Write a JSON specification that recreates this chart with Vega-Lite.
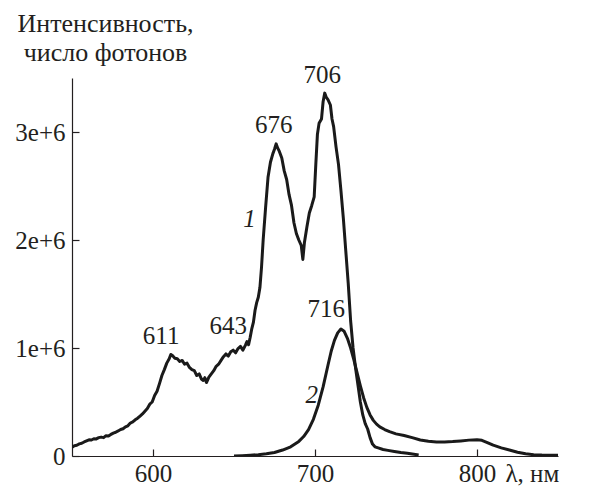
{
  "$schema": "https://vega.github.io/schema/vega-lite/v6.json",
  "width": 486,
  "height": 378,
  "autosize": {"type": "none"},
  "padding": {"left": 72, "top": 78, "right": 48, "bottom": 30},
  "background": "white",
  "config": {
    "view": {"stroke": null},
    "axis": {
      "grid": false,
      "domainColor": "#231f20",
      "domainWidth": 1.2,
      "tickColor": "#231f20",
      "tickWidth": 1.2,
      "labelFont": "Liberation Serif",
      "labelFontSize": 25,
      "labelColor": "#231f20",
      "titleFont": "Liberation Serif",
      "titleFontWeight": "normal",
      "titleColor": "#231f20"
    }
  },
  "datasets": {
    "curves": [
      {"series": "1", "nm": 550, "v": 0.080}, {"series": "1", "nm": 551.5, "v": 0.095}, {"series": "1", "nm": 553, "v": 0.100}, {"series": "1", "nm": 554.5, "v": 0.112},
      {"series": "1", "nm": 556, "v": 0.118}, {"series": "1", "nm": 557.5, "v": 0.130}, {"series": "1", "nm": 559, "v": 0.140}, {"series": "1", "nm": 560.5, "v": 0.150},
      {"series": "1", "nm": 562, "v": 0.148}, {"series": "1", "nm": 563.5, "v": 0.160}, {"series": "1", "nm": 565, "v": 0.158}, {"series": "1", "nm": 566.5, "v": 0.170},
      {"series": "1", "nm": 568, "v": 0.175}, {"series": "1", "nm": 569.5, "v": 0.170}, {"series": "1", "nm": 571, "v": 0.188}, {"series": "1", "nm": 572.5, "v": 0.185},
      {"series": "1", "nm": 574, "v": 0.200}, {"series": "1", "nm": 575.5, "v": 0.212}, {"series": "1", "nm": 577, "v": 0.220}, {"series": "1", "nm": 578.5, "v": 0.232},
      {"series": "1", "nm": 580, "v": 0.245}, {"series": "1", "nm": 581.5, "v": 0.252}, {"series": "1", "nm": 583, "v": 0.270}, {"series": "1", "nm": 584.5, "v": 0.280},
      {"series": "1", "nm": 586, "v": 0.305}, {"series": "1", "nm": 587.5, "v": 0.315}, {"series": "1", "nm": 589, "v": 0.335}, {"series": "1", "nm": 590.5, "v": 0.350},
      {"series": "1", "nm": 592, "v": 0.370}, {"series": "1", "nm": 593.5, "v": 0.390}, {"series": "1", "nm": 595, "v": 0.415}, {"series": "1", "nm": 596.5, "v": 0.440},
      {"series": "1", "nm": 598, "v": 0.480}, {"series": "1", "nm": 599.5, "v": 0.500}, {"series": "1", "nm": 601, "v": 0.560}, {"series": "1", "nm": 602.5, "v": 0.600},
      {"series": "1", "nm": 604, "v": 0.670}, {"series": "1", "nm": 605.5, "v": 0.745}, {"series": "1", "nm": 607, "v": 0.800}, {"series": "1", "nm": 608.5, "v": 0.860},
      {"series": "1", "nm": 610, "v": 0.900}, {"series": "1", "nm": 611, "v": 0.940}, {"series": "1", "nm": 612, "v": 0.930}, {"series": "1", "nm": 613.5, "v": 0.905},
      {"series": "1", "nm": 615, "v": 0.900}, {"series": "1", "nm": 616.5, "v": 0.875}, {"series": "1", "nm": 618, "v": 0.885}, {"series": "1", "nm": 619.5, "v": 0.850},
      {"series": "1", "nm": 621, "v": 0.860}, {"series": "1", "nm": 622.5, "v": 0.820}, {"series": "1", "nm": 624, "v": 0.800}, {"series": "1", "nm": 625.5, "v": 0.790},
      {"series": "1", "nm": 627, "v": 0.745}, {"series": "1", "nm": 628.5, "v": 0.760}, {"series": "1", "nm": 630, "v": 0.710}, {"series": "1", "nm": 631, "v": 0.700},
      {"series": "1", "nm": 632, "v": 0.725}, {"series": "1", "nm": 633, "v": 0.680}, {"series": "1", "nm": 634.5, "v": 0.730}, {"series": "1", "nm": 636, "v": 0.760},
      {"series": "1", "nm": 637.5, "v": 0.790}, {"series": "1", "nm": 639, "v": 0.830}, {"series": "1", "nm": 640.5, "v": 0.850}, {"series": "1", "nm": 642, "v": 0.885},
      {"series": "1", "nm": 643.5, "v": 0.920}, {"series": "1", "nm": 645, "v": 0.945}, {"series": "1", "nm": 646.5, "v": 0.925}, {"series": "1", "nm": 648, "v": 0.965},
      {"series": "1", "nm": 649.5, "v": 0.980}, {"series": "1", "nm": 651, "v": 0.955}, {"series": "1", "nm": 652.5, "v": 0.995}, {"series": "1", "nm": 654, "v": 1.015},
      {"series": "1", "nm": 655.5, "v": 0.980}, {"series": "1", "nm": 657, "v": 1.025}, {"series": "1", "nm": 658, "v": 1.060}, {"series": "1", "nm": 659, "v": 1.030},
      {"series": "1", "nm": 660, "v": 1.100}, {"series": "1", "nm": 661, "v": 1.180}, {"series": "1", "nm": 662, "v": 1.240}, {"series": "1", "nm": 663, "v": 1.350},
      {"series": "1", "nm": 664, "v": 1.420}, {"series": "1", "nm": 665, "v": 1.470}, {"series": "1", "nm": 666, "v": 1.560}, {"series": "1", "nm": 667, "v": 1.750},
      {"series": "1", "nm": 668, "v": 2.000}, {"series": "1", "nm": 669.5, "v": 2.300}, {"series": "1", "nm": 671, "v": 2.580}, {"series": "1", "nm": 672.5, "v": 2.720},
      {"series": "1", "nm": 674, "v": 2.800}, {"series": "1", "nm": 675, "v": 2.840}, {"series": "1", "nm": 676, "v": 2.890}, {"series": "1", "nm": 677, "v": 2.850},
      {"series": "1", "nm": 678, "v": 2.820}, {"series": "1", "nm": 679.5, "v": 2.760}, {"series": "1", "nm": 681, "v": 2.640}, {"series": "1", "nm": 682.5, "v": 2.560},
      {"series": "1", "nm": 684, "v": 2.420}, {"series": "1", "nm": 685.5, "v": 2.320}, {"series": "1", "nm": 687, "v": 2.160}, {"series": "1", "nm": 688.5, "v": 2.060},
      {"series": "1", "nm": 690, "v": 2.000}, {"series": "1", "nm": 691.5, "v": 1.950}, {"series": "1", "nm": 692.5, "v": 1.820}, {"series": "1", "nm": 693.5, "v": 1.980},
      {"series": "1", "nm": 695, "v": 2.120}, {"series": "1", "nm": 696.5, "v": 2.250}, {"series": "1", "nm": 698, "v": 2.320}, {"series": "1", "nm": 699.5, "v": 2.400},
      {"series": "1", "nm": 700.5, "v": 2.700}, {"series": "1", "nm": 701.5, "v": 2.980}, {"series": "1", "nm": 702.5, "v": 3.080}, {"series": "1", "nm": 704, "v": 3.120},
      {"series": "1", "nm": 705, "v": 3.280}, {"series": "1", "nm": 706, "v": 3.360}, {"series": "1", "nm": 707, "v": 3.320}, {"series": "1", "nm": 708, "v": 3.300},
      {"series": "1", "nm": 709.5, "v": 3.250}, {"series": "1", "nm": 710.5, "v": 3.120}, {"series": "1", "nm": 711.5, "v": 3.050}, {"series": "1", "nm": 713, "v": 2.860},
      {"series": "1", "nm": 714.5, "v": 2.700}, {"series": "1", "nm": 716, "v": 2.460}, {"series": "1", "nm": 717.5, "v": 2.200}, {"series": "1", "nm": 719, "v": 1.900},
      {"series": "1", "nm": 720.5, "v": 1.600}, {"series": "1", "nm": 722, "v": 1.250}, {"series": "1", "nm": 723.5, "v": 1.000}, {"series": "1", "nm": 725, "v": 0.820},
      {"series": "1", "nm": 726.5, "v": 0.660}, {"series": "1", "nm": 728, "v": 0.500}, {"series": "1", "nm": 729.5, "v": 0.380}, {"series": "1", "nm": 731, "v": 0.300},
      {"series": "1", "nm": 732.5, "v": 0.250}, {"series": "1", "nm": 734, "v": 0.170}, {"series": "1", "nm": 735.5, "v": 0.110}, {"series": "1", "nm": 737, "v": 0.085},
      {"series": "1", "nm": 739, "v": 0.075}, {"series": "1", "nm": 742, "v": 0.060}, {"series": "1", "nm": 745, "v": 0.052}, {"series": "1", "nm": 749, "v": 0.042},
      {"series": "1", "nm": 753, "v": 0.032}, {"series": "1", "nm": 757, "v": 0.025}, {"series": "1", "nm": 760, "v": 0.018}, {"series": "1", "nm": 764, "v": 0.010},
      {"series": "2", "nm": 650, "v": 0.000}, {"series": "2", "nm": 655, "v": 0.003}, {"series": "2", "nm": 660, "v": 0.007}, {"series": "2", "nm": 665, "v": 0.012},
      {"series": "2", "nm": 670, "v": 0.020}, {"series": "2", "nm": 675, "v": 0.033}, {"series": "2", "nm": 680, "v": 0.055}, {"series": "2", "nm": 685, "v": 0.085},
      {"series": "2", "nm": 690, "v": 0.135}, {"series": "2", "nm": 693, "v": 0.180}, {"series": "2", "nm": 696, "v": 0.245}, {"series": "2", "nm": 699, "v": 0.340},
      {"series": "2", "nm": 702, "v": 0.470}, {"series": "2", "nm": 705, "v": 0.640}, {"series": "2", "nm": 708, "v": 0.840}, {"series": "2", "nm": 710, "v": 0.970},
      {"series": "2", "nm": 712, "v": 1.070}, {"series": "2", "nm": 714, "v": 1.140}, {"series": "2", "nm": 716, "v": 1.175}, {"series": "2", "nm": 718, "v": 1.155},
      {"series": "2", "nm": 720, "v": 1.090}, {"series": "2", "nm": 722, "v": 1.000}, {"series": "2", "nm": 724, "v": 0.890}, {"series": "2", "nm": 726, "v": 0.770},
      {"series": "2", "nm": 728, "v": 0.650}, {"series": "2", "nm": 730, "v": 0.540}, {"series": "2", "nm": 732, "v": 0.450}, {"series": "2", "nm": 734, "v": 0.380},
      {"series": "2", "nm": 736, "v": 0.330}, {"series": "2", "nm": 738, "v": 0.295}, {"series": "2", "nm": 740, "v": 0.270}, {"series": "2", "nm": 743, "v": 0.245},
      {"series": "2", "nm": 746, "v": 0.225}, {"series": "2", "nm": 750, "v": 0.205}, {"series": "2", "nm": 755, "v": 0.190}, {"series": "2", "nm": 760, "v": 0.170},
      {"series": "2", "nm": 765, "v": 0.148}, {"series": "2", "nm": 770, "v": 0.136}, {"series": "2", "nm": 775, "v": 0.130}, {"series": "2", "nm": 780, "v": 0.130},
      {"series": "2", "nm": 785, "v": 0.134}, {"series": "2", "nm": 790, "v": 0.140}, {"series": "2", "nm": 795, "v": 0.147}, {"series": "2", "nm": 800, "v": 0.150},
      {"series": "2", "nm": 803, "v": 0.145}, {"series": "2", "nm": 806, "v": 0.127}, {"series": "2", "nm": 810, "v": 0.100}, {"series": "2", "nm": 815, "v": 0.075},
      {"series": "2", "nm": 820, "v": 0.055}, {"series": "2", "nm": 825, "v": 0.035}, {"series": "2", "nm": 830, "v": 0.020}, {"series": "2", "nm": 835, "v": 0.012},
      {"series": "2", "nm": 840, "v": 0.009}, {"series": "2", "nm": 845, "v": 0.008}, {"series": "2", "nm": 850, "v": 0.006}
    ],
    "peaks": [
      {"label": "611", "nm": 605, "v": 1.04},
      {"label": "643", "nm": 646.5, "v": 1.13},
      {"label": "676", "nm": 674.5, "v": 2.99},
      {"label": "706", "nm": 704.5, "v": 3.45},
      {"label": "716", "nm": 707, "v": 1.29}
    ],
    "curveLabels": [
      {"label": "1", "nm": 659.5, "v": 2.12},
      {"label": "2", "nm": 698, "v": 0.49}
    ]
  },
  "layer": [
    {
      "data": {"name": "curves"},
      "transform": [{"calculate": "datum.v * 1000000", "as": "intensity"}],
      "mark": {"type": "line", "color": "#1a1a1a", "strokeWidth": 3, "strokeJoin": "round", "clip": true},
      "encoding": {
        "x": {
          "field": "nm", "type": "quantitative",
          "scale": {"domain": [550, 850], "nice": false, "zero": false},
          "axis": {
            "values": [600, 700, 800],
            "tickSize": -7,
            "labelBaseline": "alphabetic",
            "labelPadding": 32,
            "title": "λ, нм",
            "titleFontSize": 25,
            "titleAngle": 0,
            "titleAlign": "left",
            "titleBaseline": "alphabetic",
            "titleX": 433,
            "titleY": 25.5
          }
        },
        "y": {
          "field": "intensity", "type": "quantitative",
          "scale": {"domain": [0, 3500000], "nice": false},
          "axis": {
            "values": [0, 1000000, 2000000, 3000000],
            "labelExpr": "datum.value == 0 ? '0' : (datum.value / 1000000) + 'e+6'",
            "tickSize": -7,
            "labelPadding": 14,
            "title": ["Интенсивность,", "число фотонов"],
            "titleFontSize": 26,
            "titleAngle": 0,
            "titleAlign": "center",
            "titleBaseline": "alphabetic",
            "titleLineHeight": 29,
            "titleX": 33,
            "titleY": -47
          }
        },
        "detail": {"field": "series", "type": "nominal"}
      }
    },
    {
      "data": {"name": "peaks"},
      "transform": [{"calculate": "datum.v * 1000000", "as": "intensity"}],
      "mark": {"type": "text", "font": "Liberation Serif", "fontSize": 25, "color": "#231f20", "baseline": "alphabetic", "align": "center"},
      "encoding": {
        "x": {"field": "nm", "type": "quantitative"},
        "y": {"field": "intensity", "type": "quantitative"},
        "text": {"field": "label", "type": "nominal"}
      }
    },
    {
      "data": {"name": "curveLabels"},
      "transform": [{"calculate": "datum.v * 1000000", "as": "intensity"}],
      "mark": {"type": "text", "font": "Liberation Serif", "fontSize": 25, "fontStyle": "italic", "color": "#231f20", "baseline": "alphabetic", "align": "center"},
      "encoding": {
        "x": {"field": "nm", "type": "quantitative"},
        "y": {"field": "intensity", "type": "quantitative"},
        "text": {"field": "label", "type": "nominal"}
      }
    }
  ]
}
